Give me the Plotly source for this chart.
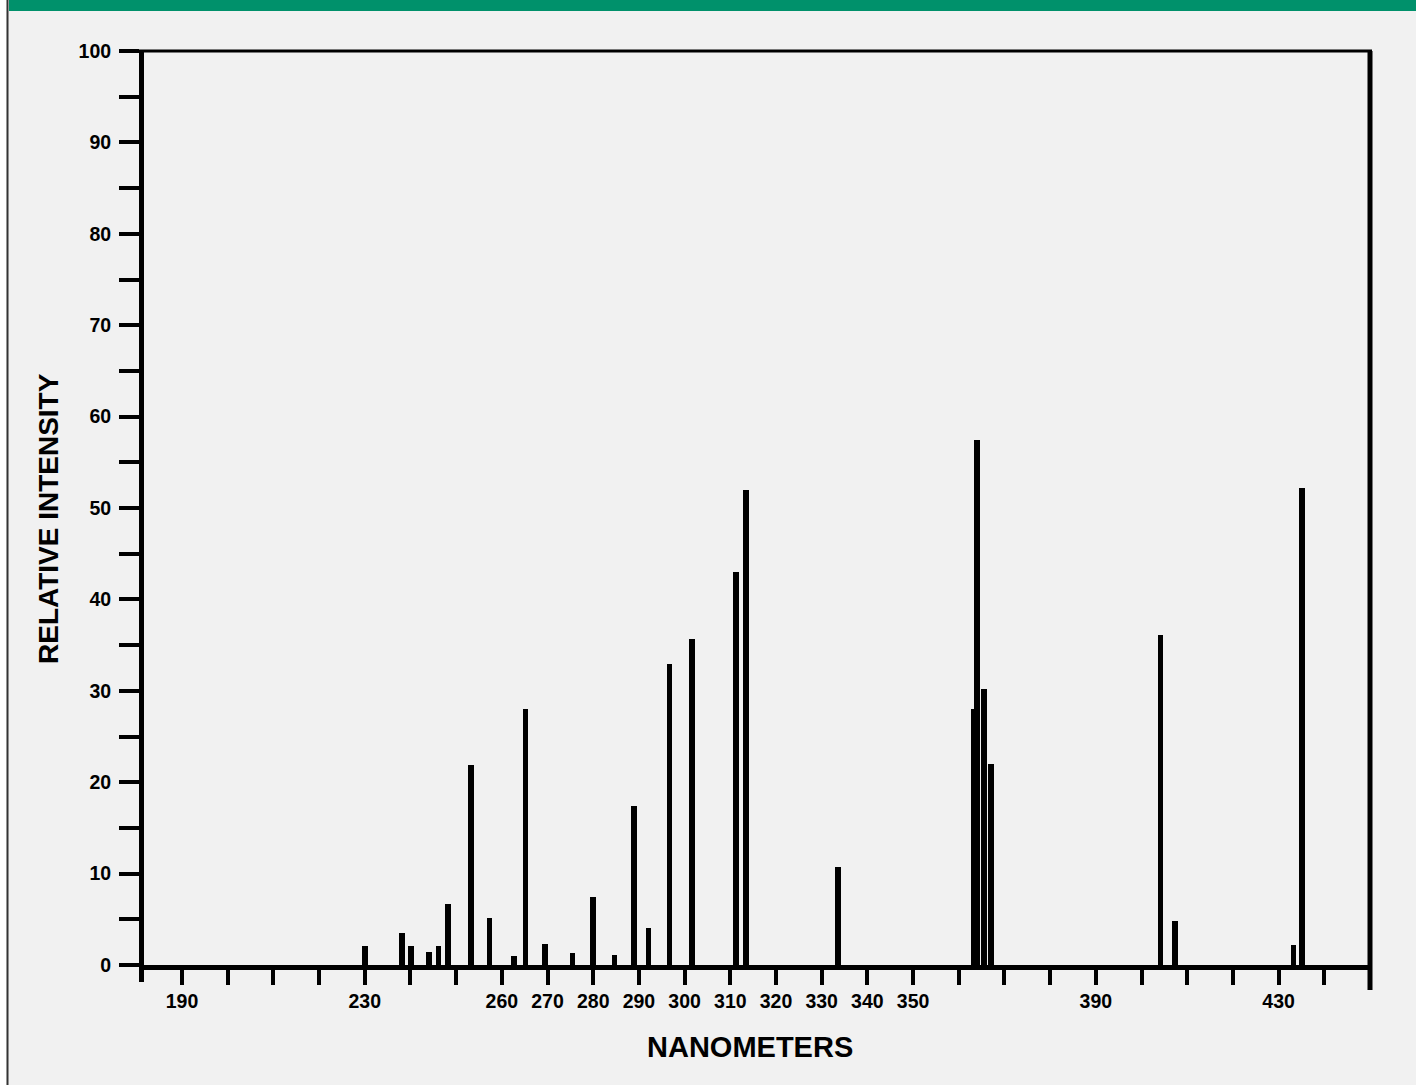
import plotly.graph_objects as go

# ---- data ----
wavelength_nm = [230.0, 238.1, 240.1, 244.1, 246.1, 248.2, 253.3, 257.3, 262.7, 265.2,
                 269.4, 275.5, 279.9, 284.6, 288.9, 292.1, 296.7, 301.6, 311.2, 313.4,
                 333.6, 363.3, 364.0, 365.5, 367.1, 404.2, 407.3, 433.2, 435.1]
intensity = [2.1, 3.5, 2.1, 1.4, 2.1, 6.7, 21.9, 5.1, 1.0, 28.0,
             2.3, 1.3, 7.4, 1.1, 17.4, 4.0, 32.9, 35.7, 43.0, 52.0,
             10.7, 28.0, 57.4, 30.2, 22.0, 36.1, 4.8, 2.2, 52.2]

x_tickvals = list(range(190, 450, 10))
x_ticktext = ["190", "", "", "", "230", "", "", "260", "270", "280", "290", "300",
              "310", "320", "330", "340", "350", "", "", "", "390", "", "", "", "430", ""]
y_tickvals = list(range(0, 105, 5))
y_ticktext = [str(v) if v % 10 == 0 else "" for v in y_tickvals]

BG = "#f1f1f1"
GREEN = "#00916b"
BLACK = "#000000"
TITLE_FONT = "Liberation Sans, Arial, sans-serif"
TICK_FONT = "Liberation Sans, Arial, sans-serif"

W, H = 1416, 1085
L, R, T, B = 144, 46, 51, 120
pw, ph = W - L - R, H - T - B


def px_x(p):
    return (p - L) / pw


def px_y(p):
    return (H - B - p) / ph


fig = go.Figure()
fig.add_trace(go.Bar(
    x=wavelength_nm, y=intensity, width=1.2,
    marker=dict(color=BLACK, line=dict(width=0)),
    showlegend=False, hoverinfo="x+y",
))

shapes = [
    # green header band
    dict(type="rect", xref="paper", yref="paper", x0=px_x(9), x1=px_x(W + 5),
         y0=px_y(11), y1=px_y(-2), fillcolor=GREEN, line=dict(width=0), layer="above"),
    # white strip at far left
    dict(type="rect", xref="paper", yref="paper", x0=px_x(-2), x1=px_x(6.5),
         y0=px_y(H + 2), y1=px_y(-2), fillcolor="#ffffff", line=dict(width=0)),
    # dark left page border
    dict(type="line", xref="paper", yref="paper", x0=px_x(7.5), x1=px_x(7.5),
         y0=px_y(H + 2), y1=px_y(-2), line=dict(color="#333333", width=2)),
    # top frame line (extends left as the 100 tick)
    dict(type="line", xref="paper", yref="paper", x0=px_x(120), x1=px_x(1372),
         y0=1, y1=1, line=dict(color=BLACK, width=3)),
    # right frame line (extends below the axis)
    dict(type="line", xref="paper", yref="paper", x0=1, x1=1,
         y0=px_y(990), y1=1, line=dict(color=BLACK, width=5)),
    # left axis extension below the baseline
    dict(type="line", xref="paper", yref="paper", x0=px_x(141.5), x1=px_x(141.5),
         y0=px_y(982), y1=0, line=dict(color=BLACK, width=5)),
]

annotations = [
    dict(text="<b>NANOMETERS</b>", xref="paper", yref="paper", x=px_x(750), y=px_y(1047),
         xanchor="center", yanchor="middle", showarrow=False,
         font=dict(family=TITLE_FONT, size=29, color=BLACK)),
    dict(text="<b>RELATIVE INTENSITY</b>", xref="paper", yref="paper", x=px_x(48), y=px_y(519),
         xanchor="center", yanchor="middle", textangle=-90, showarrow=False,
         font=dict(family=TITLE_FONT, size=28, color=BLACK)),
]

fig.update_layout(
    width=W, height=H,
    margin=dict(l=L, r=R, t=T, b=B, pad=0),
    paper_bgcolor=BG, plot_bgcolor=BG,
    barmode="overlay", bargap=0,
    shapes=shapes, annotations=annotations,
    xaxis=dict(
        range=[190 - (182 - L) / 4.569, 450], tickmode="array",
        tickvals=x_tickvals, ticktext=x_ticktext,
        ticks="outside", ticklen=15, tickwidth=4, tickcolor=BLACK,
        showline=True, linewidth=5, linecolor=BLACK, showgrid=False, zeroline=False,
        tickfont=dict(family=TICK_FONT, size=19.5, color=BLACK, weight="bold"),
    ),
    yaxis=dict(
        range=[0, 100], tickmode="array", tickvals=y_tickvals, ticktext=y_ticktext,
        ticks="outside", ticklen=20, tickwidth=4, tickcolor=BLACK,
        showline=True, linewidth=5, linecolor=BLACK, showgrid=False, zeroline=False,
        ticklabelstandoff=4,
        tickfont=dict(family=TICK_FONT, size=19.5, color=BLACK, weight="bold"),
    ),
)

fig.write_html(
    "out.html",
    config={"displayModeBar": False},
    post_script="document.body.style.margin='0';document.body.style.overflow='hidden';",
)
